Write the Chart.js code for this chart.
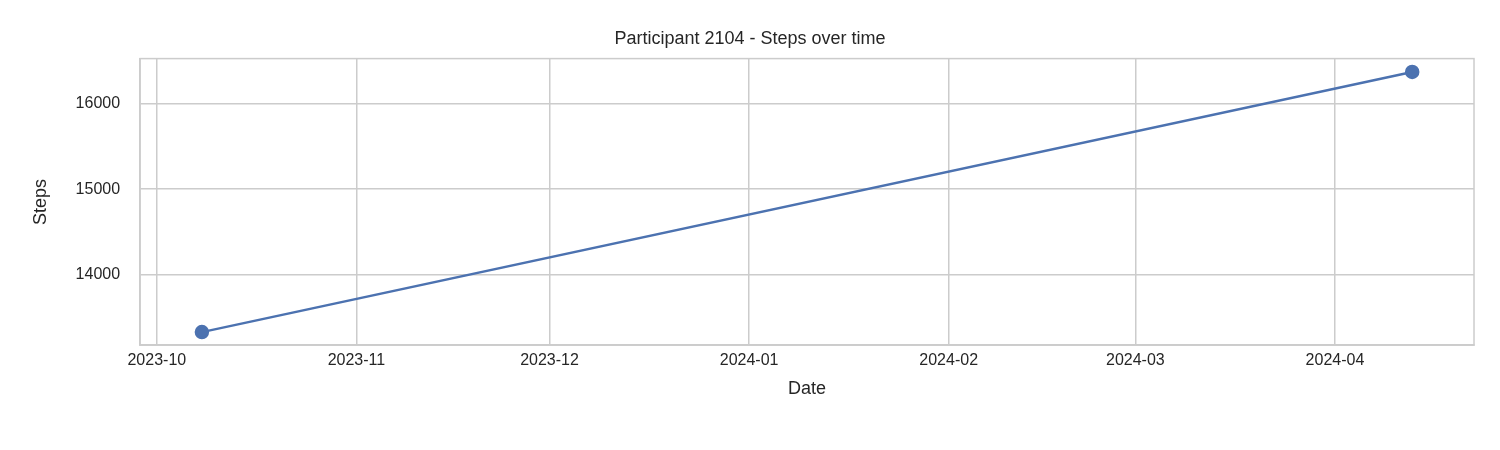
<!DOCTYPE html>
<html>
<head>
<meta charset="UTF-8">
<script src="https://cdn.jsdelivr.net/npm/chart.js"></script>
<style>body{margin:0;background:#fff}</style>
</head>
<body>
<div style="width:1500px;height:450px"><canvas id="c"></canvas></div>
<script>
// data
const dates = ["2023-10-08", "2024-04-13"];
const steps = [13330, 16370];
const monthTicks = ["2023-10-01","2023-11-01","2023-12-01","2024-01-01","2024-02-01","2024-03-01","2024-04-01"];
const stepTicks = [14000, 15000, 16000];

const base = Date.UTC(2023, 9, 1);
const toDay = s => (Date.parse(s + "T00:00:00Z") - base) / 86400000;
const tickDays = monthTicks.map(toDay);

const font = { family: "Arial, 'Liberation Sans', sans-serif", size: 16 };
const ink = "#262626";

new Chart(document.getElementById("c"), {
    type: "line",
    data: {
        datasets: [{
            data: dates.map((d, i) => ({ x: toDay(d), y: steps[i] })),
            borderColor: "#4c72b0",
            backgroundColor: "#4c72b0",
            borderWidth: 2.5,
            pointRadius: 6,
            pointHoverRadius: 6
        }]
    },
    options: {
        responsive: true,
        maintainAspectRatio: false,
        animation: false,
        layout: { padding: { left: 26, right: 26, top: 8, bottom: 46 } },
        plugins: {
            legend: { display: false },
            tooltip: { enabled: false },
            title: { display: true, text: "Participant 2104 - Steps over time", color: ink, font: { ...font, size: 18, weight: "normal" }, padding: { top: 20, bottom: 9 } }
        },
        scales: {
            x: {
                type: "linear",
                min: -2.6, max: 204.6,
                afterBuildTicks: a => { a.ticks = tickDays.map(v => ({ value: v })); },
                ticks: { color: ink, font, maxRotation: 0, padding: 6, callback: (v, i) => monthTicks[i].slice(0, 7) },
                grid: { color: "#cccccc", lineWidth: 1.5, drawTicks: false },
                border: { color: "#cccccc", width: 1.5 },
                title: { display: true, text: "Date", color: ink, font: { ...font, size: 18 }, padding: { top: 2 } }
            },
            y: {
                min: 13177, max: 16526,
                afterBuildTicks: a => { a.ticks = stepTicks.map(v => ({ value: v })); },
                ticks: { color: ink, font, padding: 20, callback: v => String(v) },
                grid: { color: "#cccccc", lineWidth: 1.5, drawTicks: false },
                border: { color: "#cccccc", width: 1.5 },
                title: { display: true, text: "Steps", color: ink, font: { ...font, size: 18 } }
            }
        }
    },
    plugins: [{
        id: "frame",
        afterDraw(chart) {
            const { ctx, chartArea: a } = chart;
            ctx.save();
            ctx.strokeStyle = "#cccccc";
            ctx.lineWidth = 1.5;
            ctx.strokeRect(a.left, a.top, a.right - a.left, a.bottom - a.top);
            ctx.restore();
        }
    }]
});
</script>
</body>
</html>
